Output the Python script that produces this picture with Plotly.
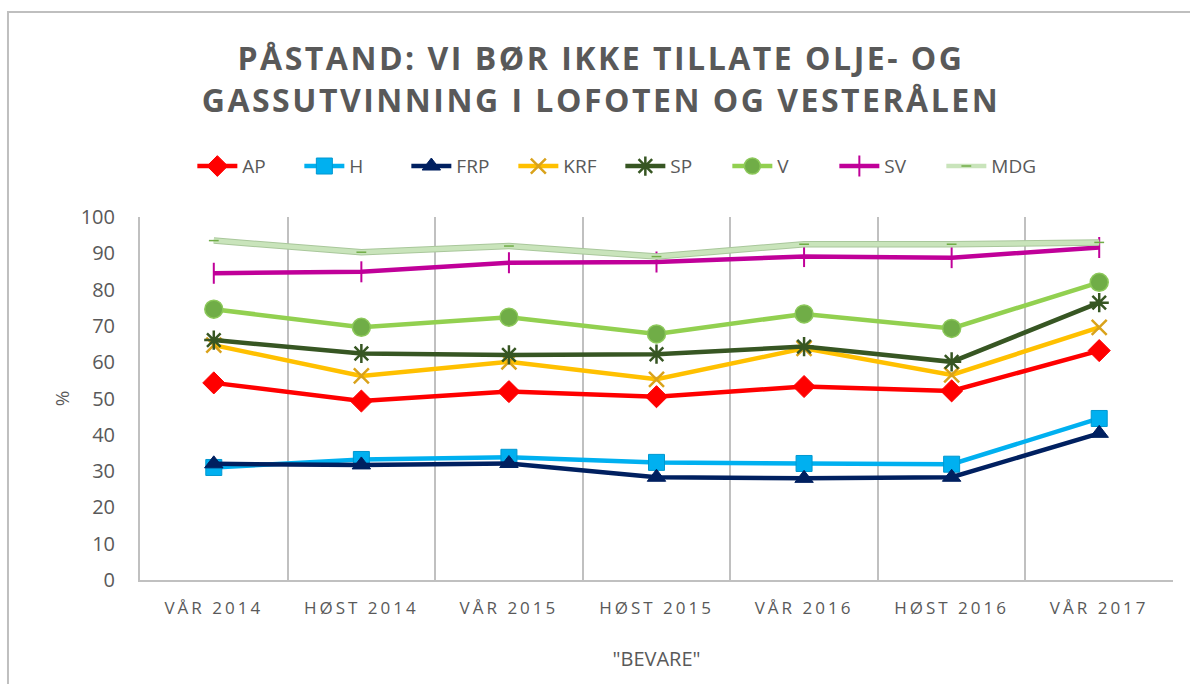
import plotly.graph_objects as go

categories = ["VÅR 2014", "HØST 2014", "VÅR 2015", "HØST 2015", "VÅR 2016", "HØST 2016", "VÅR 2017"]
ap = [54.3, 49.3, 51.9, 50.5, 53.3, 52.1, 63.2]
h = [31.0, 33.2, 33.8, 32.4, 32.1, 31.9, 44.5]
frp = [32.0, 31.7, 32.1, 28.3, 28.0, 28.3, 40.4]
krf = [64.7, 56.2, 60.1, 55.3, 63.8, 56.5, 69.6]
sp = [66.1, 62.4, 62.0, 62.2, 64.3, 60.1, 76.4]
v = [74.6, 69.6, 72.4, 67.8, 73.3, 69.3, 82.0]
sv = [84.5, 84.9, 87.4, 87.6, 89.1, 88.8, 91.6]
mdg = [93.5, 90.3, 92.0, 89.1, 92.5, 92.5, 93.0]

TXT = "#595959"
fig = go.Figure()

def add(name, y, color, symbol, msize, mcolor=None, mline=None, mlw=1, lw=4.5):
    fig.add_trace(go.Scatter(
        x=categories, y=y, name=name, mode="lines+markers",
        line=dict(color=color, width=lw),
        marker=dict(symbol=symbol, size=msize, color=mcolor or color,
                    line=dict(color=mline or (mcolor or color), width=mlw)),
    ))

add("AP", ap, "#ff0000", "diamond", 17)
add("H", h, "#00b0f0", "square", 16, mline="#0098d0")
add("FRP", frp, "#002060", "triangle-up", 16)
add("KRF", krf, "#ffc000", "x-thin-open", 15, mcolor="#d9a21b", mlw=2.5)
add("SP", sp, "#375623", "asterisk-open", 16, mlw=2.5)
add("V", v, "#92d050", "circle", 18, mcolor="#70ad47", mline="#8cc85a", mlw=1.5)
add("SV", sv, "#c00099", "line-ns-open", 15, mlw=2)
# MDG outline underlay
fig.add_trace(go.Scatter(x=categories, y=mdg, mode="lines", showlegend=False,
                         legendgroup="MDG", hoverinfo="skip",
                         line=dict(color="#a9c79b", width=6.5)))
fig.add_trace(go.Scatter(x=categories, y=mdg, name="MDG", legendgroup="MDG",
                         mode="lines+markers",
                         line=dict(color="#c9e4bb", width=4.5),
                         marker=dict(symbol="line-ew-open", size=7,
                                     color="#70ad47", line=dict(color="#70ad47", width=1.5))))

fig.update_layout(
    width=1190, height=684,
    paper_bgcolor="white", plot_bgcolor="white",
    margin=dict(l=140, r=17, t=217, b=104),
    font=dict(family="Open Sans", color=TXT),
    title=dict(text="PÅSTAND: VI BØR IKKE TILLATE OLJE- OG<br>GASSUTVINNING I LOFOTEN OG VESTERÅLEN",
               x=0.505, xanchor="center", y=0.897, yanchor="middle",
               font=dict(family="Open Sans", size=32, color=TXT, weight="bold")),
    legend=dict(orientation="h", x=0.465, xanchor="center", y=1.14, yanchor="middle",
                font=dict(size=19, color=TXT), itemwidth=40, entrywidth=52,
                traceorder="normal"),
    showlegend=True,
)
fig.update_xaxes(type="category", tickson="boundaries", showgrid=True,
                 gridcolor="#c0c0c0", gridwidth=2, showline=True, linecolor="#c0c0c0",
                 linewidth=2, ticks="", tickfont=dict(size=17, color=TXT),
                 ticklabelstandoff=12,
                 title=dict(text="\"BEVARE\"", font=dict(size=20, color=TXT), standoff=34),
                 range=[-0.5, 6.5], mirror=False)
fig.update_yaxes(range=[0, 100], dtick=10, showgrid=False, zeroline=False,
                 showline=True, linecolor="#c0c0c0", linewidth=2,
                 ticks="", tickfont=dict(size=20, color=TXT), ticklabelstandoff=19,
                 title=dict(text="%", font=dict(size=19, color=TXT), standoff=6))

fig.add_shape(type="rect", xref="paper", yref="paper", x0=-0.1278, x1=1.2, y0=-0.5, y1=1.565,
              line=dict(color="#bfbfbf", width=2), fillcolor="rgba(0,0,0,0)", layer="below")

post = """
document.body.style.margin='0';
var gd = document.getElementsByClassName('plotly-graph-div')[0];
function sp(){
  gd.querySelectorAll('.gtitle').forEach(function(e){e.style.letterSpacing='2.5px';});
  gd.querySelectorAll('.xtick text').forEach(function(e){e.style.letterSpacing='3px';});
}
sp();
gd.on('plotly_afterplot', sp);
"""
fig.write_html("out.html", post_script=post, config={"displayModeBar": False})
